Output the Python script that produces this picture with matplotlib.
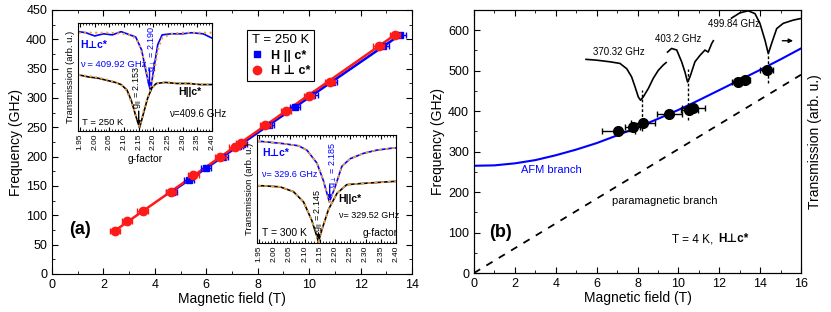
import matplotlib
matplotlib.use("Agg")
import matplotlib.pyplot as plt
from matplotlib.ticker import MultipleLocator
from matplotlib.lines import Line2D

plt.rcParams['font.family'] = ['Liberation Sans', 'DejaVu Sans']
plt.rcParams['mathtext.fontset'] = 'custom'
plt.rcParams['mathtext.rm'] = 'Liberation Sans'
plt.rcParams['mathtext.it'] = 'Liberation Sans'

# -----------------------------
# Panel (a): frequency vs field, T = 250 K
# -----------------------------
perp_B = [2.45, 2.93, 3.52, 4.62, 5.50, 6.55, 7.10, 7.35, 8.30, 9.10, 10.0, 10.80, 12.70, 13.35]
perp_f = [74, 90, 108, 140, 168, 200, 217, 223, 254, 278, 303, 328, 388, 408]
par_B = [4.65, 5.32, 5.98, 6.64, 7.24, 7.38, 8.44, 9.44, 10.13, 10.90, 12.89, 13.55]
par_f = [140, 160, 180, 200, 218, 222, 254, 284, 305, 328, 388, 408]
err_a = 0.2

perp_fit_B = [2.45, 13.35]
perp_fit_f = [74, 408]
par_fit_B = [4.65, 13.55]
par_fit_f = [140, 408]

# inset 1 (T = 250 K) spectra vs g-factor
in1_perp_g = [1.945, 1.97, 2.00, 2.03, 2.06, 2.09, 2.11, 2.14, 2.16, 2.175, 2.19, 2.20, 2.215, 2.23, 2.26, 2.30, 2.33, 2.37, 2.40]
in1_perp_T = [0.92, 0.91, 0.88, 0.90, 0.89, 0.92, 0.90, 0.87, 0.75, 0.55, 0.37, 0.55, 0.80, 0.89, 0.90, 0.90, 0.91, 0.90, 0.86]
in1_perp_fit_g = [1.945, 2.00, 2.05, 2.10, 2.13, 2.15, 2.17, 2.185, 2.19, 2.20, 2.215, 2.23, 2.26, 2.30, 2.35, 2.40]
in1_perp_fit_T = [0.91, 0.91, 0.91, 0.90, 0.88, 0.82, 0.64, 0.45, 0.40, 0.50, 0.75, 0.86, 0.90, 0.91, 0.91, 0.91]
in1_par_g = [1.945, 1.98, 2.01, 2.04, 2.07, 2.09, 2.11, 2.125, 2.14, 2.153, 2.165, 2.18, 2.195, 2.21, 2.24, 2.28, 2.32, 2.36, 2.40]
in1_par_T = [0.52, 0.50, 0.49, 0.47, 0.45, 0.43, 0.38, 0.28, 0.14, 0.03, 0.15, 0.30, 0.40, 0.44, 0.45, 0.44, 0.44, 0.43, 0.43]
in1_par_fit_g = [1.945, 2.00, 2.05, 2.09, 2.11, 2.13, 2.153, 2.17, 2.19, 2.21, 2.25, 2.30, 2.40]
in1_par_fit_T = [0.52, 0.50, 0.47, 0.43, 0.37, 0.23, 0.04, 0.22, 0.38, 0.44, 0.45, 0.44, 0.43]

# inset 2 (T = 300 K) spectra vs g-factor
in2_perp_g = [1.945, 1.959, 2.03, 2.08, 2.107, 2.14, 2.161, 2.181, 2.20, 2.222, 2.249, 2.293, 2.337, 2.392, 2.40]
in2_perp_T = [0.94, 0.94, 0.92, 0.90, 0.86, 0.74, 0.58, 0.38, 0.52, 0.71, 0.78, 0.83, 0.86, 0.88, 0.88]
in2_par_g = [1.945, 1.959, 2.019, 2.063, 2.096, 2.123, 2.14, 2.145, 2.156, 2.178, 2.206, 2.238, 2.282, 2.337, 2.392, 2.40]
in2_par_T = [0.53, 0.53, 0.52, 0.475, 0.38, 0.21, 0.06, 0.01, 0.12, 0.31, 0.46, 0.54, 0.55, 0.56, 0.57, 0.57]

# -----------------------------
# Panel (b): T = 4 K, H perp c*
# -----------------------------
afm_B = [0, 1, 2, 3, 4, 5, 6, 7, 8, 9, 10, 11, 12, 13, 14, 15, 16]
afm_f = [265, 266, 271, 279, 291, 305, 321, 340, 360, 381, 403, 427, 452, 477, 502, 528, 555]
para_B = [0, 16]
para_f = [0, 490]

pts_B = [7.06, 7.76, 8.28, 9.56, 10.53, 10.73, 12.93, 13.26, 14.32]
pts_f = [350, 361, 371, 394, 404, 409, 472, 476, 501]
pts_err = [0.8, 0.35, 0.6, 0.63, 0.42, 0.57, 0.33, 0.25, 0.33]

spec1_B = [5.48, 6.0, 6.65, 7.14, 7.47, 7.71, 7.88, 8.04, 8.15, 8.28, 8.53, 8.77, 9.02, 9.26, 9.4]
spec1_T = [528, 526, 522, 518, 505, 485, 460, 435, 427, 435, 456, 481, 501, 514, 520]
spec2_B = [9.47, 9.67, 9.92, 10.16, 10.32, 10.45, 10.57, 10.81, 11.06, 11.3, 11.46, 11.63, 11.71]
spec2_T = [546, 555, 551, 522, 497, 472, 485, 522, 538, 551, 546, 567, 574]
spec3_B = [12.6, 13.01, 13.42, 13.75, 13.99, 14.24, 14.4, 14.56, 14.81, 15.13, 15.62, 16.0]
spec3_T = [630, 643, 648, 641, 617, 575, 542, 567, 604, 617, 625, 629]
spec_labels = ["370.32 GHz", "403.2 GHz", "499.84 GHz"]

guide_B = [8.2, 10.47, 14.4]
guide_top = [452, 505, 538]
guide_bot = [352, 378, 470]

BLUE = "#0000ff"
RED = "#ff1a1a"
ORANGE = "#f0a040"

fig = plt.figure(figsize=(8.31, 3.12), dpi=100)

# ---------- panel (a)
ax = fig.add_axes([52 / 831, 1 - 274 / 312, 360 / 831, 264 / 312])
ax.plot(par_fit_B, par_fit_f, color=BLUE, lw=1.8, zorder=2)
ax.plot(perp_fit_B, perp_fit_f, color=RED, lw=1.8, zorder=3)
ax.errorbar(par_B, par_f, xerr=err_a, fmt='s', color=BLUE, ms=4.5, capsize=2, elinewidth=1, zorder=4)
ax.errorbar(perp_B, perp_f, xerr=err_a, fmt='o', color=RED, ms=6, capsize=2, elinewidth=1, zorder=5)
ax.set_xlim(0, 14)
ax.set_ylim(0, 450)
ax.xaxis.set_major_locator(MultipleLocator(2))
ax.xaxis.set_minor_locator(MultipleLocator(1))
ax.yaxis.set_major_locator(MultipleLocator(50))
ax.yaxis.set_minor_locator(MultipleLocator(25))
ax.tick_params(which='both', direction='in', top=True, right=True, labelsize=9)
ax.tick_params(which='major', length=4)
ax.tick_params(which='minor', length=2)
ax.set_xlabel("Magnetic field (T)", fontsize=10, labelpad=1)
ax.set_ylabel("Frequency (GHz)", fontsize=10, labelpad=2)
ax.text(0.65, 75, "(a)", fontsize=13, fontweight='bold', va='center')

handles = [Line2D([], [], ls='none', marker='s', color=BLUE, ms=5),
           Line2D([], [], ls='none', marker='o', color=RED, ms=6)]
leg = ax.legend(handles, ["H || c*", "H \u22a5 c*"], title="T = 250 K", title_fontsize=9.5,
                loc='upper left', bbox_to_anchor=(0.525, 0.947), fancybox=False,
                edgecolor='black', framealpha=1, handlelength=1, handletextpad=0.6,
                borderpad=0.3, labelspacing=0.3, prop={'weight': 'bold', 'size': 9})
leg.get_frame().set_linewidth(0.8)

# ---------- inset 1
def style_inset(a):
    a.set_xlim(1.943, 2.40)
    a.set_ylim(0, 1)
    a.xaxis.set_minor_locator(MultipleLocator(0.01))
    a.set_xticks([1.95, 2.00, 2.05, 2.10, 2.15, 2.20, 2.25, 2.30, 2.35, 2.40])
    a.set_xticklabels(["1.95", "2.00", "2.05", "2.10", "2.15", "2.20", "2.25", "2.30", "2.35", "2.40"],
                      rotation=90, fontsize=6)
    a.set_yticks([])
    a.tick_params(which='both', direction='in', top=True, pad=2)
    a.tick_params(which='major', length=3)
    a.tick_params(which='minor', length=1.5)
    a.set_ylabel("Transmission (arb. u.)", fontsize=6.8, labelpad=2)

in1 = fig.add_axes([78 / 831, 1 - 131 / 312, 134 / 831, 108 / 312])
in1.plot(in1_perp_g, in1_perp_T, color=BLUE, lw=1.2)
in1.plot(in1_perp_fit_g, in1_perp_fit_T, color=ORANGE, lw=1.5, ls=':')
in1.plot(in1_par_g, in1_par_T, color='black', lw=1.2)
in1.plot(in1_par_fit_g, in1_par_fit_T, color=ORANGE, lw=1.5, ls=':')
style_inset(in1)
in1.set_xlabel("g-factor", fontsize=7.5, labelpad=3)
in1.text(1.95, 0.80, "H\u22a5c*", color=BLUE, fontsize=7.5, fontweight='bold', va='center')
in1.text(1.95, 0.62, "\u03bd = 409.92 GHz", color=BLUE, fontsize=6.8, va='center')
in1.text(2.196, 0.76, r"g$_{\perp}$ = 2.190", color=BLUE, fontsize=6.5, rotation=90, ha='center', va='center')
in1.annotate('', xy=(2.187, 0.38), xytext=(2.187, 0.60),
             arrowprops=dict(arrowstyle='-|>', color=BLUE, lw=1, mutation_scale=5))
in1.text(2.148, 0.40, r"g$_{||}$ = 2.153", color='black', fontsize=6.5, rotation=90, ha='center', va='center')
in1.annotate('', xy=(2.150, 0.03), xytext=(2.150, 0.21),
             arrowprops=dict(arrowstyle='-|>', color='black', lw=1, mutation_scale=5))
in1.text(2.285, 0.36, "H||c*", color='black', fontsize=7.5, fontweight='bold', va='center')
in1.text(2.255, 0.16, "\u03bd=409.6 GHz", color='black', fontsize=7, va='center')
in1.text(1.955, 0.08, "T = 250 K", color='black', fontsize=6.8, va='center')

# ---------- inset 2
in2 = fig.add_axes([257 / 831, 1 - 243 / 312, 139 / 831, 108 / 312])
in2.plot(in2_perp_g, in2_perp_T, color=BLUE, lw=1.2)
in2.plot(in2_perp_g, in2_perp_T, color=ORANGE, lw=1.2, ls=(0, (2, 2)))
in2.plot(in2_par_g, in2_par_T, color='black', lw=1.2)
in2.plot(in2_par_g, in2_par_T, color=ORANGE, lw=1.2, ls=(0, (2, 2)))
style_inset(in2)
in2.text(1.96, 0.83, "H\u22a5c*", color=BLUE, fontsize=7.5, fontweight='bold', va='center')
in2.text(1.96, 0.63, "\u03bd= 329.6 GHz", color=BLUE, fontsize=6.5, va='center')
in2.text(2.193, 0.72, r"g$_{\perp}$ = 2.185", color=BLUE, fontsize=6.5, rotation=90, ha='center', va='center')
in2.annotate('', xy=(2.182, 0.38), xytext=(2.182, 0.56),
             arrowprops=dict(arrowstyle='-|>', color=BLUE, lw=1, mutation_scale=5))
in2.text(2.147, 0.30, r"g$_{||}$ = 2.145", color='black', fontsize=6.5, rotation=90, ha='center', va='center')
in2.annotate('', xy=(2.145, 0.01), xytext=(2.145, 0.12),
             arrowprops=dict(arrowstyle='-|>', color='black', lw=1, mutation_scale=5))
in2.text(2.21, 0.41, "H||c*", color='black', fontsize=7.5, fontweight='bold', va='center')
in2.text(2.212, 0.25, "\u03bd= 329.52 GHz", color='black', fontsize=6.5, va='center')
in2.text(1.96, 0.09, "T = 300 K", color='black', fontsize=7.5, va='center')
in2.text(2.29, 0.09, "g-factor", color='black', fontsize=7.5, va='center')

# ---------- panel (b)
bx = fig.add_axes([474 / 831, 1 - 273 / 312, 327 / 831, 263 / 312])
bx.plot(afm_B, afm_f, color=BLUE, lw=1.5, zorder=2)
bx.plot(para_B, para_f, color='black', lw=1.3, ls=(0, (4, 4)), zorder=2)
bx.vlines(guide_B, guide_bot, guide_top, colors='black', lw=1, linestyles=(0, (2, 1.5)), zorder=3)
bx.errorbar(pts_B, pts_f, xerr=pts_err, fmt='o', color='black', ms=7, capsize=2.5, elinewidth=1, zorder=4)
bx.set_xlim(0, 16)
bx.set_ylim(0, 650)
bx.xaxis.set_major_locator(MultipleLocator(2))
bx.xaxis.set_minor_locator(MultipleLocator(1))
bx.yaxis.set_major_locator(MultipleLocator(100))
bx.yaxis.set_minor_locator(MultipleLocator(50))
bx.tick_params(which='both', direction='in', top=True, labelsize=9)
bx.tick_params(which='major', length=4)
bx.tick_params(which='minor', length=2)
bx.set_xlabel("Magnetic field (T)", fontsize=10, labelpad=1)
bx.set_ylabel("Frequency (GHz)", fontsize=10, labelpad=2)

bt = bx.twinx()
bt.set_ylim(0, 650)
bt.set_yticks([])
bt.set_ylabel("Transmission (arb. u.)", fontsize=10, labelpad=5)
for sb, st in [(spec1_B, spec1_T), (spec2_B, spec2_T), (spec3_B, spec3_T)]:
    bt.plot(sb, st, color='black', lw=1.2, clip_on=True)
bt.text(7.1, 547, spec_labels[0], fontsize=7, ha='center', va='center')
bt.text(10.0, 579, spec_labels[1], fontsize=7, ha='center', va='center')
bt.text(12.7, 615, spec_labels[2], fontsize=7, ha='center', va='center')
bt.annotate('', xy=(15.75, 574), xytext=(14.95, 574),
            arrowprops=dict(arrowstyle='-|>', color='black', lw=1, mutation_scale=6))

bx.text(2.3, 255, "AFM branch", color=BLUE, fontsize=8, va='center')
bx.text(6.75, 177, "paramagnetic branch", color='black', fontsize=8, va='center')
bx.text(0.75, 99, "(b)", fontsize=13, fontweight='bold', va='center')
bx.text(9.67, 84, "T = 4 K,", fontsize=8.5, va='center')
bx.text(11.95, 84, "H\u22a5c*", fontsize=8.5, fontweight='bold', va='center')

fig.savefig("out.png", dpi=100)
